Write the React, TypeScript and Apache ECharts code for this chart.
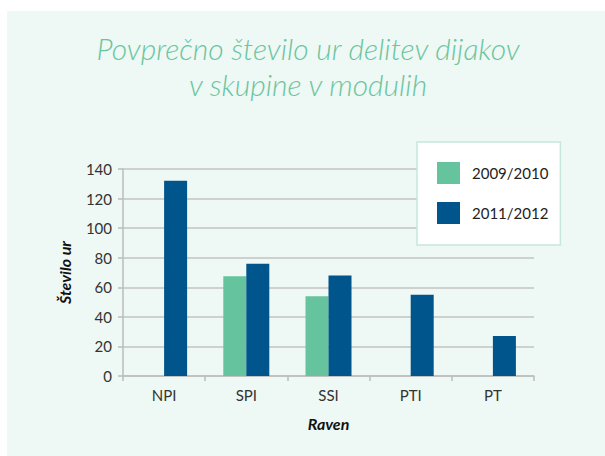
import React, { useEffect, useRef } from "react";
import * as echarts from "echarts";

const categories = ["NPI", "SPI", "SSI", "PTI", "PT"];
const series2009 = [null, 67.5, 54, null, null];
const series2011 = [132, 76, 68, 55, 27];
const seriesNames = ["2009/2010", "2011/2012"];
const titleLines = ["Povprečno število ur delitev dijakov", "v skupine v modulih"];
const yAxisName = "Število ur";
const xAxisName = "Raven";

export default function App() {
  const ref = useRef<HTMLDivElement>(null);
  useEffect(() => {
    document.body.style.margin = "0";
    const chart = echarts.init(ref.current!, null, { renderer: "svg" });
    const font = "Lato, 'Open Sans', sans-serif";
    chart.setOption({
      animation: false,
      backgroundColor: "#ffffff",
      textStyle: { fontFamily: font },
      graphic: [
        {
          type: "rect",
          z: -10,
          shape: { x: 7, y: 11, width: 598, height: 445 },
          style: { fill: "#eef8f4" },
        },
        {
          type: "text",
          x: 308,
          y: 48,
          style: {
            text: titleLines[0],
            align: "center",
            verticalAlign: "middle",
            fontFamily: font,
            fontStyle: "italic",
            fontWeight: 300,
            fontSize: 30,
            fill: "#6ac59f",
          },
        },
        {
          type: "text",
          x: 308,
          y: 84,
          style: {
            text: titleLines[1],
            align: "center",
            verticalAlign: "middle",
            fontFamily: font,
            fontStyle: "italic",
            fontWeight: 300,
            fontSize: 30,
            fill: "#6ac59f",
          },
        },
      ],
      legend: {
        orient: "vertical",
        left: 417,
        top: 142,
        backgroundColor: "#ffffff",
        borderColor: "#c5e8dc",
        borderWidth: 1.5,
        borderRadius: 0,
        padding: [20, 12, 21, 20],
        itemWidth: 23,
        itemHeight: 22,
        itemGap: 18,
        icon: "rect",
        textStyle: { fontFamily: font, fontSize: 15, color: "#222", padding: [0, 0, 0, 7] },
        data: seriesNames,
      },
      grid: { left: 123, right: 71, top: 169, bottom: 80 },
      xAxis: {
        type: "category",
        data: categories,
        name: xAxisName,
        nameLocation: "middle",
        nameGap: 39,
        nameTextStyle: { fontFamily: font, fontStyle: "italic", fontWeight: "bold", fontSize: 16, color: "#111" },
        axisLine: { lineStyle: { color: "#bdbdbd", width: 1.5 } },
        axisTick: { show: true, length: 5, lineStyle: { color: "#bdbdbd", width: 1.5 } },
        axisLabel: { fontFamily: font, fontSize: 15, color: "#333", margin: 11 },
      },
      yAxis: {
        type: "value",
        min: 0,
        max: 140,
        interval: 20,
        name: yAxisName,
        nameLocation: "middle",
        nameGap: 51,
        nameTextStyle: { fontFamily: font, fontStyle: "italic", fontWeight: "bold", fontSize: 16, color: "#111" },
        axisLine: { show: true, lineStyle: { color: "#bdbdbd", width: 1.5 } },
        axisTick: { show: true, length: 5, lineStyle: { color: "#bdbdbd", width: 1.5 } },
        axisLabel: { fontFamily: font, fontSize: 15, color: "#333", margin: 11 },
        splitLine: { lineStyle: { color: "#c4c4c4", width: 1.5 } },
      },
      series: [
        {
          name: seriesNames[0],
          type: "bar",
          data: series2009,
          barWidth: 23,
          barGap: "0%",
          itemStyle: { color: "#65c39d" },
        },
        {
          name: seriesNames[1],
          type: "bar",
          data: series2011,
          barWidth: 23,
          barGap: "0%",
          itemStyle: { color: "#00558c" },
        },
      ],
    });
    return () => chart.dispose();
  }, []);
  return <div ref={ref} style={{ width: 605, height: 456 }} />;
}
